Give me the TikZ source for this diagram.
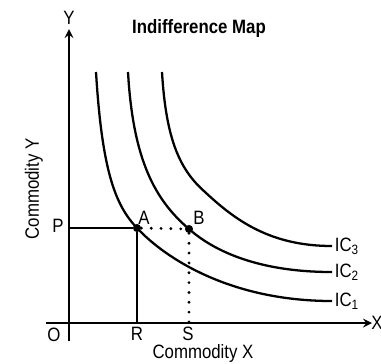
\documentclass[tikz,border=0pt]{standalone}
\usepackage{fontspec}
\setmainfont[FakeStretch=0.87]{Liberation Sans}
\begin{document}
\begin{tikzpicture}[>=stealth,x=0.02cm,y=-0.02cm,
	axis/.style={line width=1.25pt},
	curve/.style={line width=1.3pt},
	dotline/.style={line width=1.8pt,line cap=round,dash pattern=on 0pt off 5.6pt},
	dot/.style={circle,fill,inner sep=0pt,minimum size=4.6pt},
	lbl/.style={font=\fontsize{11}{13}\selectfont,inner sep=1pt}]
	  \useasboundingbox (0,0) rectangle (381,363);
	  \coordinate (o) at (69,323);
	  \coordinate (ytop) at (69,29);
	  \coordinate (ybot) at (69,341);
	  \coordinate (xbeg) at (46,323);
	  \coordinate (xend) at (372,323);
	  \coordinate (p) at (69,228);
	  \coordinate (r) at (137,323);
	  \coordinate (s) at (189,323);
	  \draw[axis,->] (ybot) -- (ytop);
	  \draw[axis,->] (xbeg) -- (xend);
	  \node[font=\fontsize{11}{13}\selectfont\bfseries] (title) at (199,28) {Indifference Map};
	  \node[lbl] (ylab) at (69,18) {Y};
	  \node[lbl] (xlab) at (377,323) {X};
	  \node[lbl,rotate=90] (ycom) at (34,189) {Commodity Y};
	  \node[lbl] (xcom) at (203,353) {Commodity X};
	  \node[dot] (a) at (137,228) {};
	  \node[dot] (b) at (189,229) {};
	  \draw[curve] (96,72) .. controls (102,170) and (115,205) .. (a.center)
	    .. controls (165,258) and (230,301) .. (332,301) node[lbl,right] (ic1) {IC\textsubscript{1}};
	  \draw[curve] (128,72) .. controls (133,160) and (155,200) .. (b.center)
	    .. controls (215,252) and (260,272) .. (332,272) node[lbl,right] (ic2) {IC\textsubscript{2}};
	  \draw[curve] (162,72) .. controls (166,140) and (180,170) .. (205,192)
	    .. controls (235,220) and (270,246) .. (332,246) node[lbl,right] (ic3) {IC\textsubscript{3}};
	  \draw[axis] (p) -- (a);
	  \draw[axis] (a) -- (r);
	  \draw[dotline] (a) -- (b);
	  \draw[dotline] (b) -- (s);
	  \node[lbl] (plab) at (58,226) {P};
	  \node[lbl] (alab) at (144,218) {A};
	  \node[lbl] (blab) at (199,218) {B};
	  \node[lbl] (olab) at (54,335) {O};
	  \node[lbl] (rlab) at (137,334) {R};
	  \node[lbl] (slab) at (188,334) {S};
	\end{tikzpicture}
\end{document}
